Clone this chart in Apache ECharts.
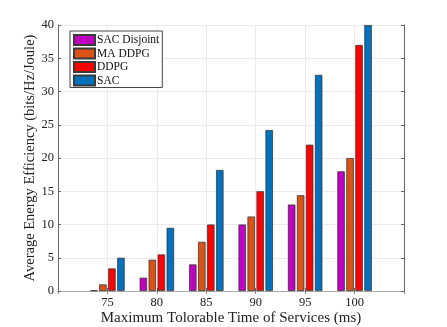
<!DOCTYPE html>
<html><head><meta charset="utf-8">
<script src="https://cdn.jsdelivr.net/npm/echarts@6/dist/echarts.min.js"></script>
<style>html,body{margin:0;padding:0;background:#fff}#c{width:447px;height:327px}</style>
</head><body><div id="c"></div>
<script>
const categories = ['70','75','80','85','90','95','100','105'];
const tickLabels = ['', '75','80','85','90','95','100', ''];
const seriesNames = ['SAC Disjoint','MA DDPG','DDPG','SAC'];
const sacDisjoint = ['-', 0.1, 2.0, 4.0, 10.0, 13.0, 18.0, '-'];
const maDdpg      = ['-', 1.0, 4.7, 7.4, 11.2, 14.4, 20.0, '-'];
const ddpg        = ['-', 3.4, 5.5, 10.0, 15.0, 22.0, 37.0, '-'];
const sac         = ['-', 5.0, 9.5, 18.2, 24.2, 32.5, 40.0, '-'];
const colors = ['#BF00BF','#D95319','#FF0000','#0072BD'];
const values = [sacDisjoint, maDdpg, ddpg, sac];

const font = 'Liberation Serif';
const chart = echarts.init(document.getElementById('c'), null, {renderer:'canvas'});
chart.setOption({
  animation:false,
  color: colors,
  grid:{left:58, right:43, top:25, bottom:36, containLabel:false, outerBoundsMode:'none'},
  legend:{
    orient:'vertical', left:70, top:31,
    icon:'rect',
    itemWidth:21, itemHeight:10, itemGap:1.5,
    padding:[3,3,1,3],
    borderColor:'#444', borderWidth:1, backgroundColor:'#fff',
    textStyle:{fontFamily:font, fontSize:11.5, lineHeight:10, color:'#111', padding:[0,0,0,-3]},
    data: seriesNames
  },
  xAxis:[{
    type:'category', data:categories, boundaryGap:false,
    name:'Maximum Tolorable Time of Services (ms)', nameLocation:'middle', nameGap:20,
    nameMoveOverlap:false,
    nameTextStyle:{fontFamily:font, fontSize:15, color:'#222'},
    axisLine:{lineStyle:{color:'#666'}},
    axisTick:{inside:true, length:3, lineStyle:{color:'#666'}},
    axisLabel:{fontFamily:font, fontSize:12.5, color:'#222', margin:5, interval:0,
      formatter:(v,i)=>tickLabels[i]},
    splitLine:{show:true, lineStyle:{color:'#ebebeb'}}
  },{
    type:'category', data:categories, boundaryGap:false, position:'top',
    axisLine:{lineStyle:{color:'#aaa'}},
    axisTick:{inside:true, length:3, lineStyle:{color:'#888'}},
    axisLabel:{show:false}, splitLine:{show:false}
  }],
  yAxis:[{
    type:'value', min:0, max:40, interval:5,
    name:'Average Energy Efficiency (bits/Hz/Joule)', nameLocation:'middle', nameGap:20,
    nameMoveOverlap:false,
    nameTextStyle:{fontFamily:font, fontSize:14.5, color:'#222'},
    axisLine:{show:true, lineStyle:{color:'#666'}},
    axisTick:{show:true, inside:true, length:3, lineStyle:{color:'#666'}},
    axisLabel:{fontFamily:font, fontSize:12.5, color:'#222', margin:4},
    splitLine:{show:true, lineStyle:{color:'#ebebeb'}}
  },{
    type:'value', min:0, max:40, interval:5, position:'right',
    axisLine:{show:true, lineStyle:{color:'#666'}},
    axisTick:{show:true, inside:true, length:3, lineStyle:{color:'#666'}},
    axisLabel:{show:false}, splitLine:{show:false}
  }],
  series: seriesNames.map((n,i)=>({
    name:n, type:'bar', data:values[i], xAxisIndex:0, yAxisIndex:0,
    barWidth:7.5, barGap:'20%',
    itemStyle:{color:colors[i], borderColor:'#3a3a3a', borderWidth:0.8}
  }))
});
</script></body></html>
